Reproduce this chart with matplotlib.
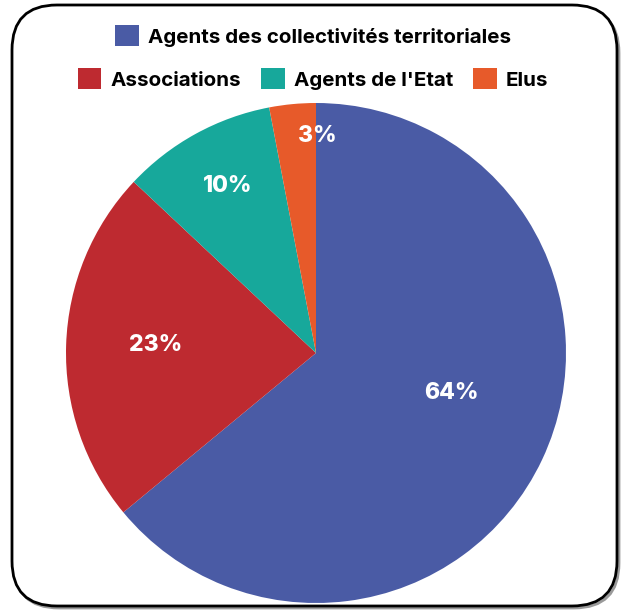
import matplotlib
matplotlib.use("Agg")
import matplotlib.pyplot as plt
import numpy as np
from matplotlib.patches import FancyBboxPatch

plt.rcParams["font.family"] = ["Inter", "DejaVu Sans"]

# données
CATEGORIES = ["Agents des collectivités territoriales", "Associations", "Agents de l'Etat", "Elus"]
VALUES = [64, 23, 10, 3]
COLORS = ["#4A5BA5", "#BE2A30", "#17A89B", "#E75A2A"]
# position des étiquettes (fraction du rayon, décalage angulaire en degrés)
LABEL_DIST = [0.566, 0.641, 0.755, 0.867]
LABEL_SHIFT = [8.6, -0.9, -1.0, -5.8]

W, H = 625, 610
fig = plt.figure(figsize=(W / 100, H / 100), dpi=100)

# cadre arrondi
bg = fig.add_axes([0, 0, 1, 1])
bg.set_xlim(0, W)
bg.set_ylim(H, 0)
bg.axis("off")
shadow = FancyBboxPatch((14, 8), 605, 600, boxstyle="round,pad=0,rounding_size=45",
                        facecolor="none", edgecolor="#9a9a9a", linewidth=2.0)
box = FancyBboxPatch((12, 5), 605, 601, boxstyle="round,pad=0,rounding_size=45",
                     facecolor="white", edgecolor="black", linewidth=2.0)
bg.add_patch(shadow)
bg.add_patch(box)

# camembert
cx, cy, r = 316, 353, 250
ax = fig.add_axes([(cx - r) / W, (H - cy - r) / H, 2 * r / W, 2 * r / H])
wedges, _ = ax.pie(VALUES, colors=COLORS, startangle=90, counterclock=False,
                   wedgeprops=dict(linewidth=0))
ax.set_xlim(-1, 1)
ax.set_ylim(-1, 1)
ax.axis("off")

for w, v, d, s in zip(wedges, VALUES, LABEL_DIST, LABEL_SHIFT):
    ang = np.deg2rad((w.theta1 + w.theta2) / 2 + s)
    ax.text(d * np.cos(ang), d * np.sin(ang), f"{v}%", color="white",
            fontsize=16.5, fontweight="heavy", ha="center", va="center")

# légende sur deux lignes
leg_kw = dict(loc="center", frameon=False, handlelength=1.14,
              handleheight=1.14, handletextpad=0.44, columnspacing=0.98,
              prop=dict(weight="bold", size=14.8))
leg1 = fig.legend(wedges[:1], CATEGORIES[:1], ncol=1,
                  bbox_to_anchor=(313 / W, 1 - 36 / H), **leg_kw)
leg2 = fig.legend(wedges[1:], CATEGORIES[1:], ncol=3,
                  bbox_to_anchor=(313 / W, 1 - 79 / H), **leg_kw)

fig.savefig("out.png", dpi=100)
